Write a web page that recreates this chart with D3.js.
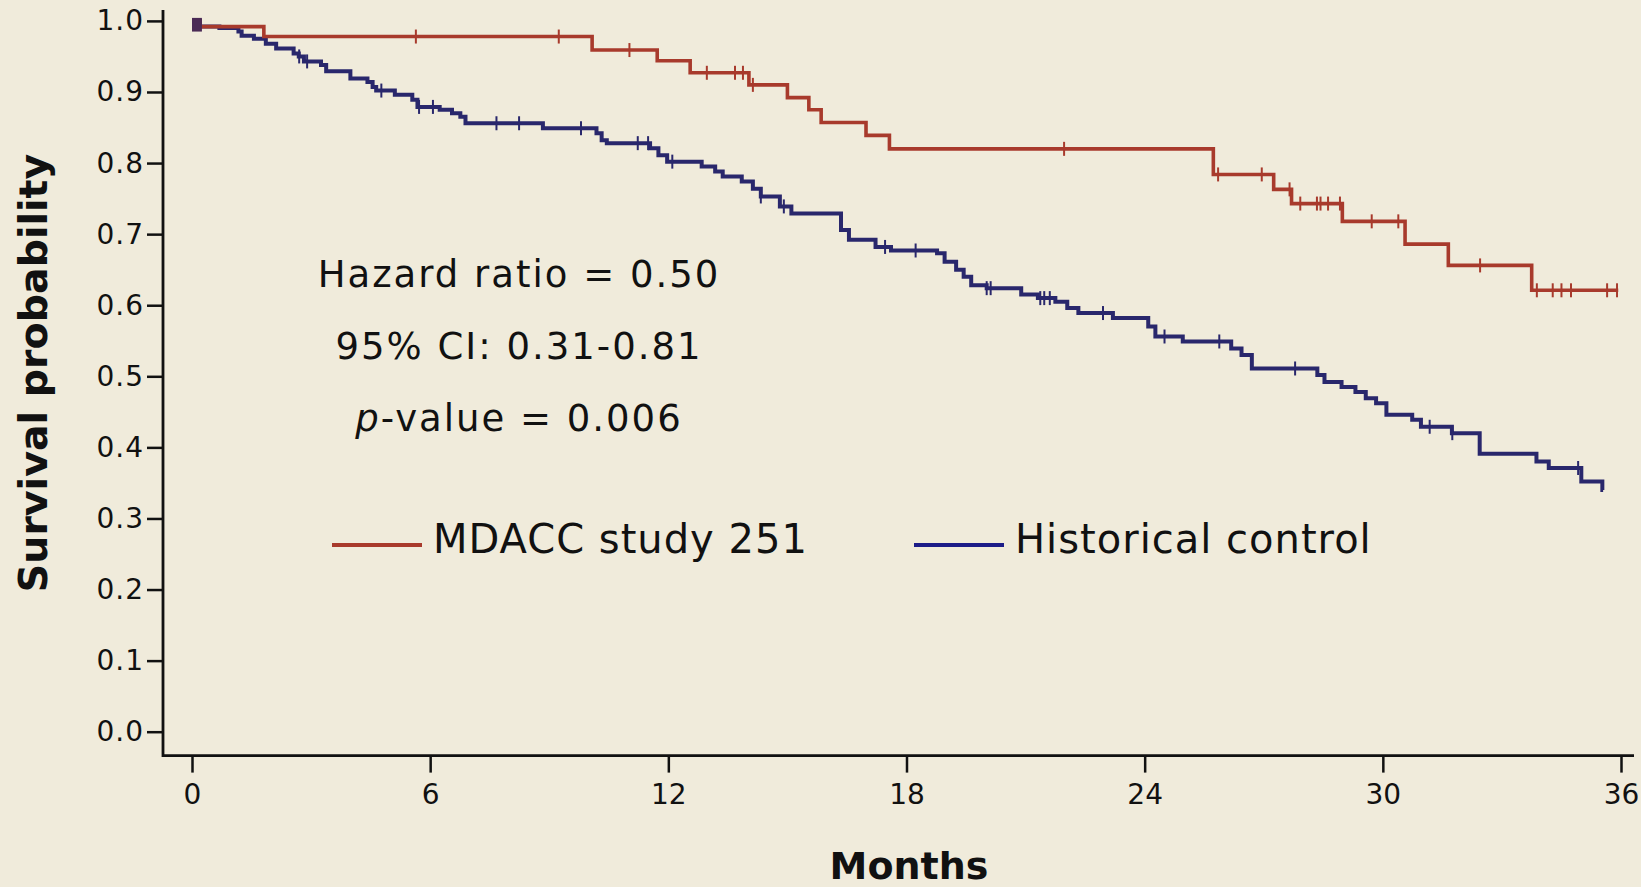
<!DOCTYPE html>
<html>
<head>
<meta charset="utf-8">
<title>Survival probability - MDACC study 251 vs historical control</title>
<script src="https://d3js.org/d3.v7.min.js"></script>
<style>
  body { margin: 0; background: #f0ebdb; }
  svg { display: block; }
</style>
</head>
<body>
<div id="chart"></div>
<script>
// ---- values ----
// x axis: months, y axis: survival probability
var xTicks = [0, 6, 12, 18, 24, 30, 36];
var yTicks = [0, 0.1, 0.2, 0.3, 0.4, 0.5, 0.6, 0.7, 0.8, 0.9, 1.0];

// MDACC study 251 (red): time of each drop and level after it
var redTimes = [0, 0.2, 1.81, 10.08, 11.72, 12.55, 14.03, 15.0, 15.54, 15.85, 16.98, 17.57,
                25.73, 27.25, 27.7, 28.98, 30.56, 31.65, 33.75];
var redSurv  = [1.0, 0.992, 0.978, 0.959, 0.944, 0.927, 0.910, 0.892, 0.875, 0.857, 0.839, 0.820,
                0.784, 0.763, 0.743, 0.718, 0.686, 0.656, 0.621];
var redEnd = 35.93;
var redCensor = [5.64, 9.24, 11.02, 12.97, 13.68, 13.88, 14.13, 21.97, 25.85, 26.95, 27.65, 27.92,
                 28.34, 28.43, 28.62, 28.92, 29.72, 30.39, 32.45, 33.88, 34.28, 34.5, 34.74, 35.65, 35.9];

// Historical control (blue)
var blueTimes = [0, 0.2, 0.69, 1.17, 1.25, 1.56, 1.86, 2.12, 2.56, 2.69, 2.82, 3.25, 3.38, 3.99,
                 4.42, 4.55, 4.64, 5.11, 5.55, 5.68, 6.24, 6.55, 6.76, 6.89, 8.84, 10.19, 10.32,
                 10.45, 11.54, 11.75, 11.97, 12.84, 13.18, 13.37, 13.85,
                 14.13, 14.33, 14.81, 15.10, 16.35, 16.55, 17.22, 17.61, 18.77, 18.96, 19.25, 19.44,
                 19.63, 20.02, 20.89, 21.31, 21.75, 22.05, 22.33, 23.20, 24.09, 24.27, 24.96, 26.18,
                 26.44, 26.70, 28.35, 28.53, 28.96, 29.31, 29.57, 29.83, 30.09, 30.74, 30.96, 31.74,
                 32.44, 33.87, 34.18, 35.00, 35.53];
var blueSurv  = [1.0, 0.992, 0.990, 0.985, 0.979, 0.975, 0.968, 0.961, 0.954, 0.950, 0.943, 0.938,
                 0.929, 0.919, 0.914, 0.907, 0.902, 0.896, 0.889, 0.879, 0.875, 0.870, 0.865, 0.856,
                 0.849, 0.842, 0.832, 0.828, 0.821, 0.811, 0.802, 0.795, 0.788, 0.781, 0.774,
                 0.764, 0.753, 0.739, 0.729, 0.706, 0.692, 0.682, 0.677, 0.673, 0.661,
                 0.650, 0.640, 0.628, 0.624, 0.615, 0.610, 0.605, 0.596, 0.589, 0.582, 0.570, 0.556,
                 0.549, 0.539, 0.530, 0.511, 0.502, 0.492, 0.485, 0.478, 0.469, 0.462, 0.446, 0.439,
                 0.429, 0.420, 0.391, 0.380, 0.371, 0.352, 0.340];
var blueEnd = 35.55;
var blueCensor = [2.70, 2.90, 4.77, 5.72, 6.07, 7.67, 8.24, 9.80, 11.23, 11.49, 12.10, 14.33, 14.91,
                  17.46, 18.23, 20.02, 20.12, 21.37, 21.47, 21.61, 22.95, 24.50, 25.88, 27.79,
                  31.18, 31.75, 34.92];

var seriesNames = ["MDACC study 251", "Historical control"];
var annotation = ["Hazard ratio = 0.50", "95% CI: 0.31-0.81", "-value = 0.006"];

// ---- layout ----
var width = 1641, height = 887;
var axisX = 163, axisY = 755.6;
var red = "#a83a2c", blue = "#29276c", legendBlue = "#1c1c88", ink = "#111";
var font = "'DejaVu Sans', Verdana, sans-serif";

var x = d3.scaleLinear().domain([0, 36]).range([192, 1621]);
var y = d3.scaleLinear().domain([0, 1]).range([731.7, 20.9]);

var svg = d3.select("#chart").append("svg")
    .attr("width", width)
    .attr("height", height);

svg.append("rect").attr("width", width).attr("height", height).attr("fill", "#f0ebdb");

// ---- axes ----
var gy = svg.append("g")
    .attr("transform", "translate(" + axisX + ",0)")
    .call(d3.axisLeft(y).tickValues(yTicks).tickFormat(d3.format(".1f")).tickSize(16).tickPadding(3));
gy.select(".domain").remove();
gy.selectAll("line").attr("stroke", ink).attr("stroke-width", 2.5);
gy.selectAll("text").attr("font-family", font).attr("font-size", 28)
    .attr("letter-spacing", 1).attr("fill", ink);

var gx = svg.append("g")
    .attr("transform", "translate(0," + axisY + ")")
    .call(d3.axisBottom(x).tickValues(xTicks).tickSize(17).tickPadding(12));
gx.select(".domain").remove();
gx.selectAll("line").attr("stroke", ink).attr("stroke-width", 2.5);
gx.selectAll("text").attr("font-family", font).attr("font-size", 28).attr("fill", ink);

// axis spines (L-shaped frame)
svg.append("path")
    .attr("d", "M" + axisX + "," + (y(1) - 11) + "V" + axisY + "H" + (x(36) + 13))
    .attr("fill", "none").attr("stroke", ink).attr("stroke-width", 2.8);

// axis titles
svg.append("text")
    .attr("x", 909).attr("y", 879)
    .attr("text-anchor", "middle")
    .attr("font-family", font).attr("font-weight", "bold").attr("font-size", 38)
    .attr("fill", ink)
    .text("Months");

svg.append("text")
    .attr("transform", "translate(47,373) rotate(-90)")
    .attr("text-anchor", "middle")
    .attr("font-family", font).attr("font-weight", "bold").attr("font-size", 39.5)
    .attr("fill", ink)
    .text("Survival probability");

// ---- survival curves ----
function stepPoints(times, surv, end) {
  var pts = times.map(function(t, i) { return [t, surv[i]]; });
  pts.push([end, surv[surv.length - 1]]);
  return pts;
}
function survAt(times, surv, t) {
  var i = d3.bisectRight(times, t) - 1;
  return surv[Math.max(0, i)];
}

var line = d3.line()
    .x(function(d) { return x(d[0]); })
    .y(function(d) { return y(d[1]); })
    .curve(d3.curveStepAfter);

var curves = [
  { times: blueTimes, surv: blueSurv, end: blueEnd, censor: blueCensor, color: blue, w: 4 },
  { times: redTimes, surv: redSurv, end: redEnd, censor: redCensor, color: red, w: 3.6 }
];

curves.forEach(function(c) {
  svg.append("path")
      .datum(stepPoints(c.times, c.surv, c.end))
      .attr("d", line)
      .attr("fill", "none")
      .attr("stroke", c.color)
      .attr("stroke-width", c.w)
      .attr("stroke-linejoin", "miter");

  // censoring ticks
  svg.append("g").selectAll("line")
      .data(c.censor)
      .enter().append("line")
      .attr("x1", function(t) { return x(t); })
      .attr("x2", function(t) { return x(t); })
      .attr("y1", function(t) { return y(survAt(c.times, c.surv, t)) - 7; })
      .attr("y2", function(t) { return y(survAt(c.times, c.surv, t)) + 7; })
      .attr("stroke", c.color)
      .attr("stroke-width", 2);
});

// overlapping marks at time zero
svg.append("rect")
    .attr("x", x(0)).attr("y", y(1) - 3)
    .attr("width", x(0.25) - x(0)).attr("height", y(0.985) - y(1) + 3)
    .attr("fill", "#4a2a55");

// ---- annotation ----
var note = svg.append("g")
    .attr("font-family", font).attr("font-size", 37)
    .attr("letter-spacing", 2).attr("fill", ink)
    .attr("text-anchor", "middle");
note.append("text").attr("x", 519).attr("y", 287).text(annotation[0]);
note.append("text").attr("x", 519).attr("y", 359).text(annotation[1]);
var pv = note.append("text").attr("x", 519).attr("y", 431);
pv.append("tspan").attr("font-style", "italic").text("p");
pv.append("tspan").text(annotation[2]);

// ---- legend ----
var legend = [
  { name: seriesNames[0], color: red, x0: 332 },
  { name: seriesNames[1], color: legendBlue, x0: 914 }
];
var lg = svg.append("g").selectAll("g")
    .data(legend)
    .enter().append("g")
    .attr("transform", function(d) { return "translate(" + d.x0 + ",545)"; });
lg.append("line")
    .attr("x1", 0).attr("x2", 90)
    .attr("stroke", function(d) { return d.color; })
    .attr("stroke-width", 4);
lg.append("text")
    .attr("x", 101).attr("y", 8)
    .attr("font-family", font).attr("font-size", 40)
    .attr("letter-spacing", 1).attr("fill", ink)
    .text(function(d) { return d.name; });
</script>
</body>
</html>
